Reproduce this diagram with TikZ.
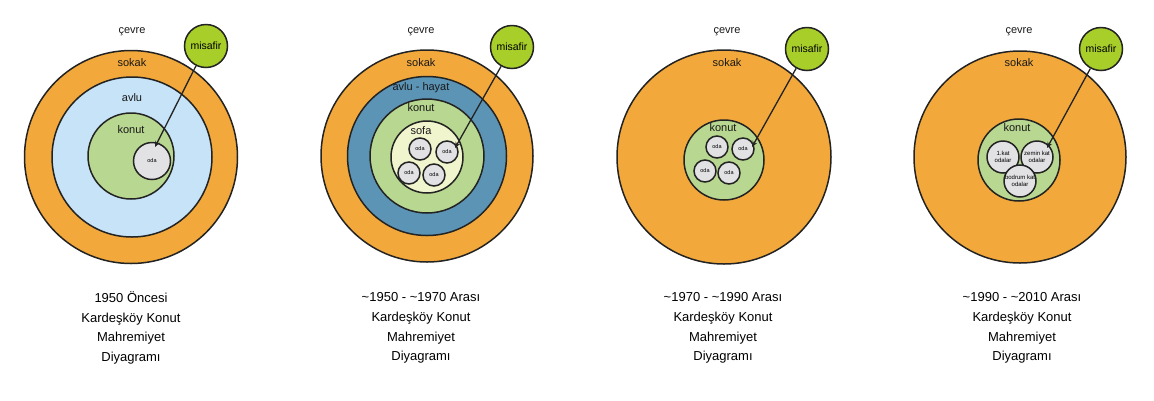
\documentclass[tikz,border=0pt]{standalone}
\usepackage{fontspec}
\setmainfont{Liberation Sans}
\usepackage{xcolor}
\usetikzlibrary{arrows.meta}

\definecolor{ringline}{RGB}{35,35,35}
\definecolor{sokakorange}{RGB}{242,168,58}
\definecolor{avlublue}{RGB}{198,227,247}
\definecolor{hayatblue}{RGB}{92,148,182}
\definecolor{konutgreen}{RGB}{184,215,144}
\definecolor{sofacream}{RGB}{241,245,206}
\definecolor{odagray}{RGB}{226,226,229}
\definecolor{misafirgreen}{RGB}{168,206,42}

\tikzset{
    ring/.style={circle, draw=ringline, line width=1.5pt, inner sep=0pt},
    lbl/.style={font=\fontsize{11}{12}\selectfont, text=black!90},
    odacircle/.style={ring, fill=odagray, minimum size=22pt, align=center,
        font=\fontsize{5.5}{6}\selectfont},
    guest/.style={ring, fill=misafirgreen, minimum size=43pt,
        font=\fontsize{10.5}{11}\selectfont},
    visit/.style={-{Stealth[length=6pt,width=5pt]}, line width=1.3pt, draw=ringline},
    caption/.style={align=center, font=\fontsize{13}{19.7}\selectfont}
}

\begin{document}
\begin{tikzpicture}[x=1pt, y=-1pt]
    \useasboundingbox (0,0) rectangle (1154,400);

    % 1950 oncesi: sokak, avlu, konut, oda
    \node[ring, fill=sokakorange, minimum size=213pt] (sokak1) at (131,157) {};
    \node[ring, fill=avlublue, minimum size=160pt] (avlu1) at (132,157) {};
    \node[ring, fill=konutgreen, minimum size=86pt] (konut1) at (131,156) {};
    \node[odacircle, minimum size=37pt] (oda1) at (152,161) {oda};
    \node[lbl] (cevrel1) at (132,32) {çevre};
    \node[lbl] (sokakl1) at (132,63) {sokak};
    \node[lbl] (avlul1) at (132,98) {avlu};
    \node[lbl] (konutl1) at (131,130) {konut};
    \node[guest] (misafir1) at (206,46) {misafir};
    \coordinate (hedef1) at (155,147);
    \draw[visit] (misafir1) -- (hedef1);
    \node[caption] (baslik1) at (131,328) {1950 Öncesi\\Kardeşköy Konut\\Mahremiyet\\Diyagramı};

    % ~1950 - ~1970: avlu-hayat ve sofa eklenir
    \node[ring, fill=sokakorange, minimum size=212pt] (sokak2) at (427,156) {};
    \node[ring, fill=hayatblue, minimum size=159pt] (avlu2) at (427,156) {};
    \node[ring, fill=konutgreen, minimum size=114pt] (konut2) at (427,156) {};
    \node[ring, fill=sofacream, minimum size=72pt] (sofa2) at (427,157) {};
    \node[odacircle] (oda2a) at (420,149) {oda};
    \node[odacircle] (oda2b) at (447,152) {oda};
    \node[odacircle] (oda2c) at (409,173) {oda};
    \node[odacircle] (oda2d) at (434,175) {oda};
    \node[lbl] (cevrel2) at (421,32) {çevre};
    \node[lbl] (sokakl2) at (421,63) {sokak};
    \node[lbl] (avlul2) at (421,88) {avlu - hayat};
    \node[lbl] (konutl2) at (421,108) {konut};
    \node[lbl] (sofal2) at (421,131) {sofa};
    \node[guest] (misafir2) at (512,47) {misafir};
    \coordinate (hedef2) at (455,148);
    \draw[visit] (misafir2) -- (hedef2);
    \node[caption] (baslik2) at (421,328) {\textasciitilde1950 - \textasciitilde1970 Arası\\Kardeşköy Konut\\Mahremiyet\\Diyagramı};

    % ~1970 - ~1990: konut dogrudan sokakta
    \node[ring, fill=sokakorange, minimum size=214pt] (sokak3) at (724,157) {};
    \node[ring, fill=konutgreen, minimum size=80pt] (konut3) at (724,160) {};
    \node[odacircle] (oda3a) at (717,147) {oda};
    \node[odacircle] (oda3b) at (743,149) {oda};
    \node[odacircle] (oda3c) at (705,171) {oda};
    \node[odacircle] (oda3d) at (729,173) {oda};
    \node[lbl] (cevrel3) at (727,32) {çevre};
    \node[lbl] (sokakl3) at (727,63) {sokak};
    \node[lbl] (konutl3) at (723,128) {konut};
    \node[guest] (misafir3) at (807,49) {misafir};
    \coordinate (hedef3) at (752,147);
    \draw[visit] (misafir3) -- (hedef3);
    \node[caption] (baslik3) at (723,328) {\textasciitilde1970 - \textasciitilde1990 Arası\\Kardeşköy Konut\\Mahremiyet\\Diyagramı};

    % ~1990 - ~2010: katlara ayrilan odalar
    \node[ring, fill=sokakorange, minimum size=212pt] (sokak4) at (1020,157) {};
    \node[ring, fill=konutgreen, minimum size=82pt] (konut4) at (1019,160) {};
    \node[odacircle, minimum size=32pt, font=\fontsize{6}{7}\selectfont] (kat1) at (1003,157) {1.kat\\odalar};
    \node[odacircle, minimum size=32pt, font=\fontsize{6}{7}\selectfont] (zemin4) at (1037,157) {zemin kat\\odalar};
    \node[odacircle, minimum size=32pt, font=\fontsize{6}{7}\selectfont] (bodrum4) at (1020,181) {bodrum kat\\odalar};
    \node[lbl] (cevrel4) at (1019,32) {çevre};
    \node[lbl] (sokakl4) at (1019,63) {sokak};
    \node[lbl] (konutl4) at (1017,128) {konut};
    \node[guest] (misafir4) at (1101,49) {misafir};
    \coordinate (hedef4) at (1047,148);
    \draw[visit] (misafir4) -- (hedef4);
    \node[caption] (baslik4) at (1022,328) {\textasciitilde1990 - \textasciitilde2010 Arası\\Kardeşköy Konut\\Mahremiyet\\Diyagramı};
\end{tikzpicture}
\end{document}
